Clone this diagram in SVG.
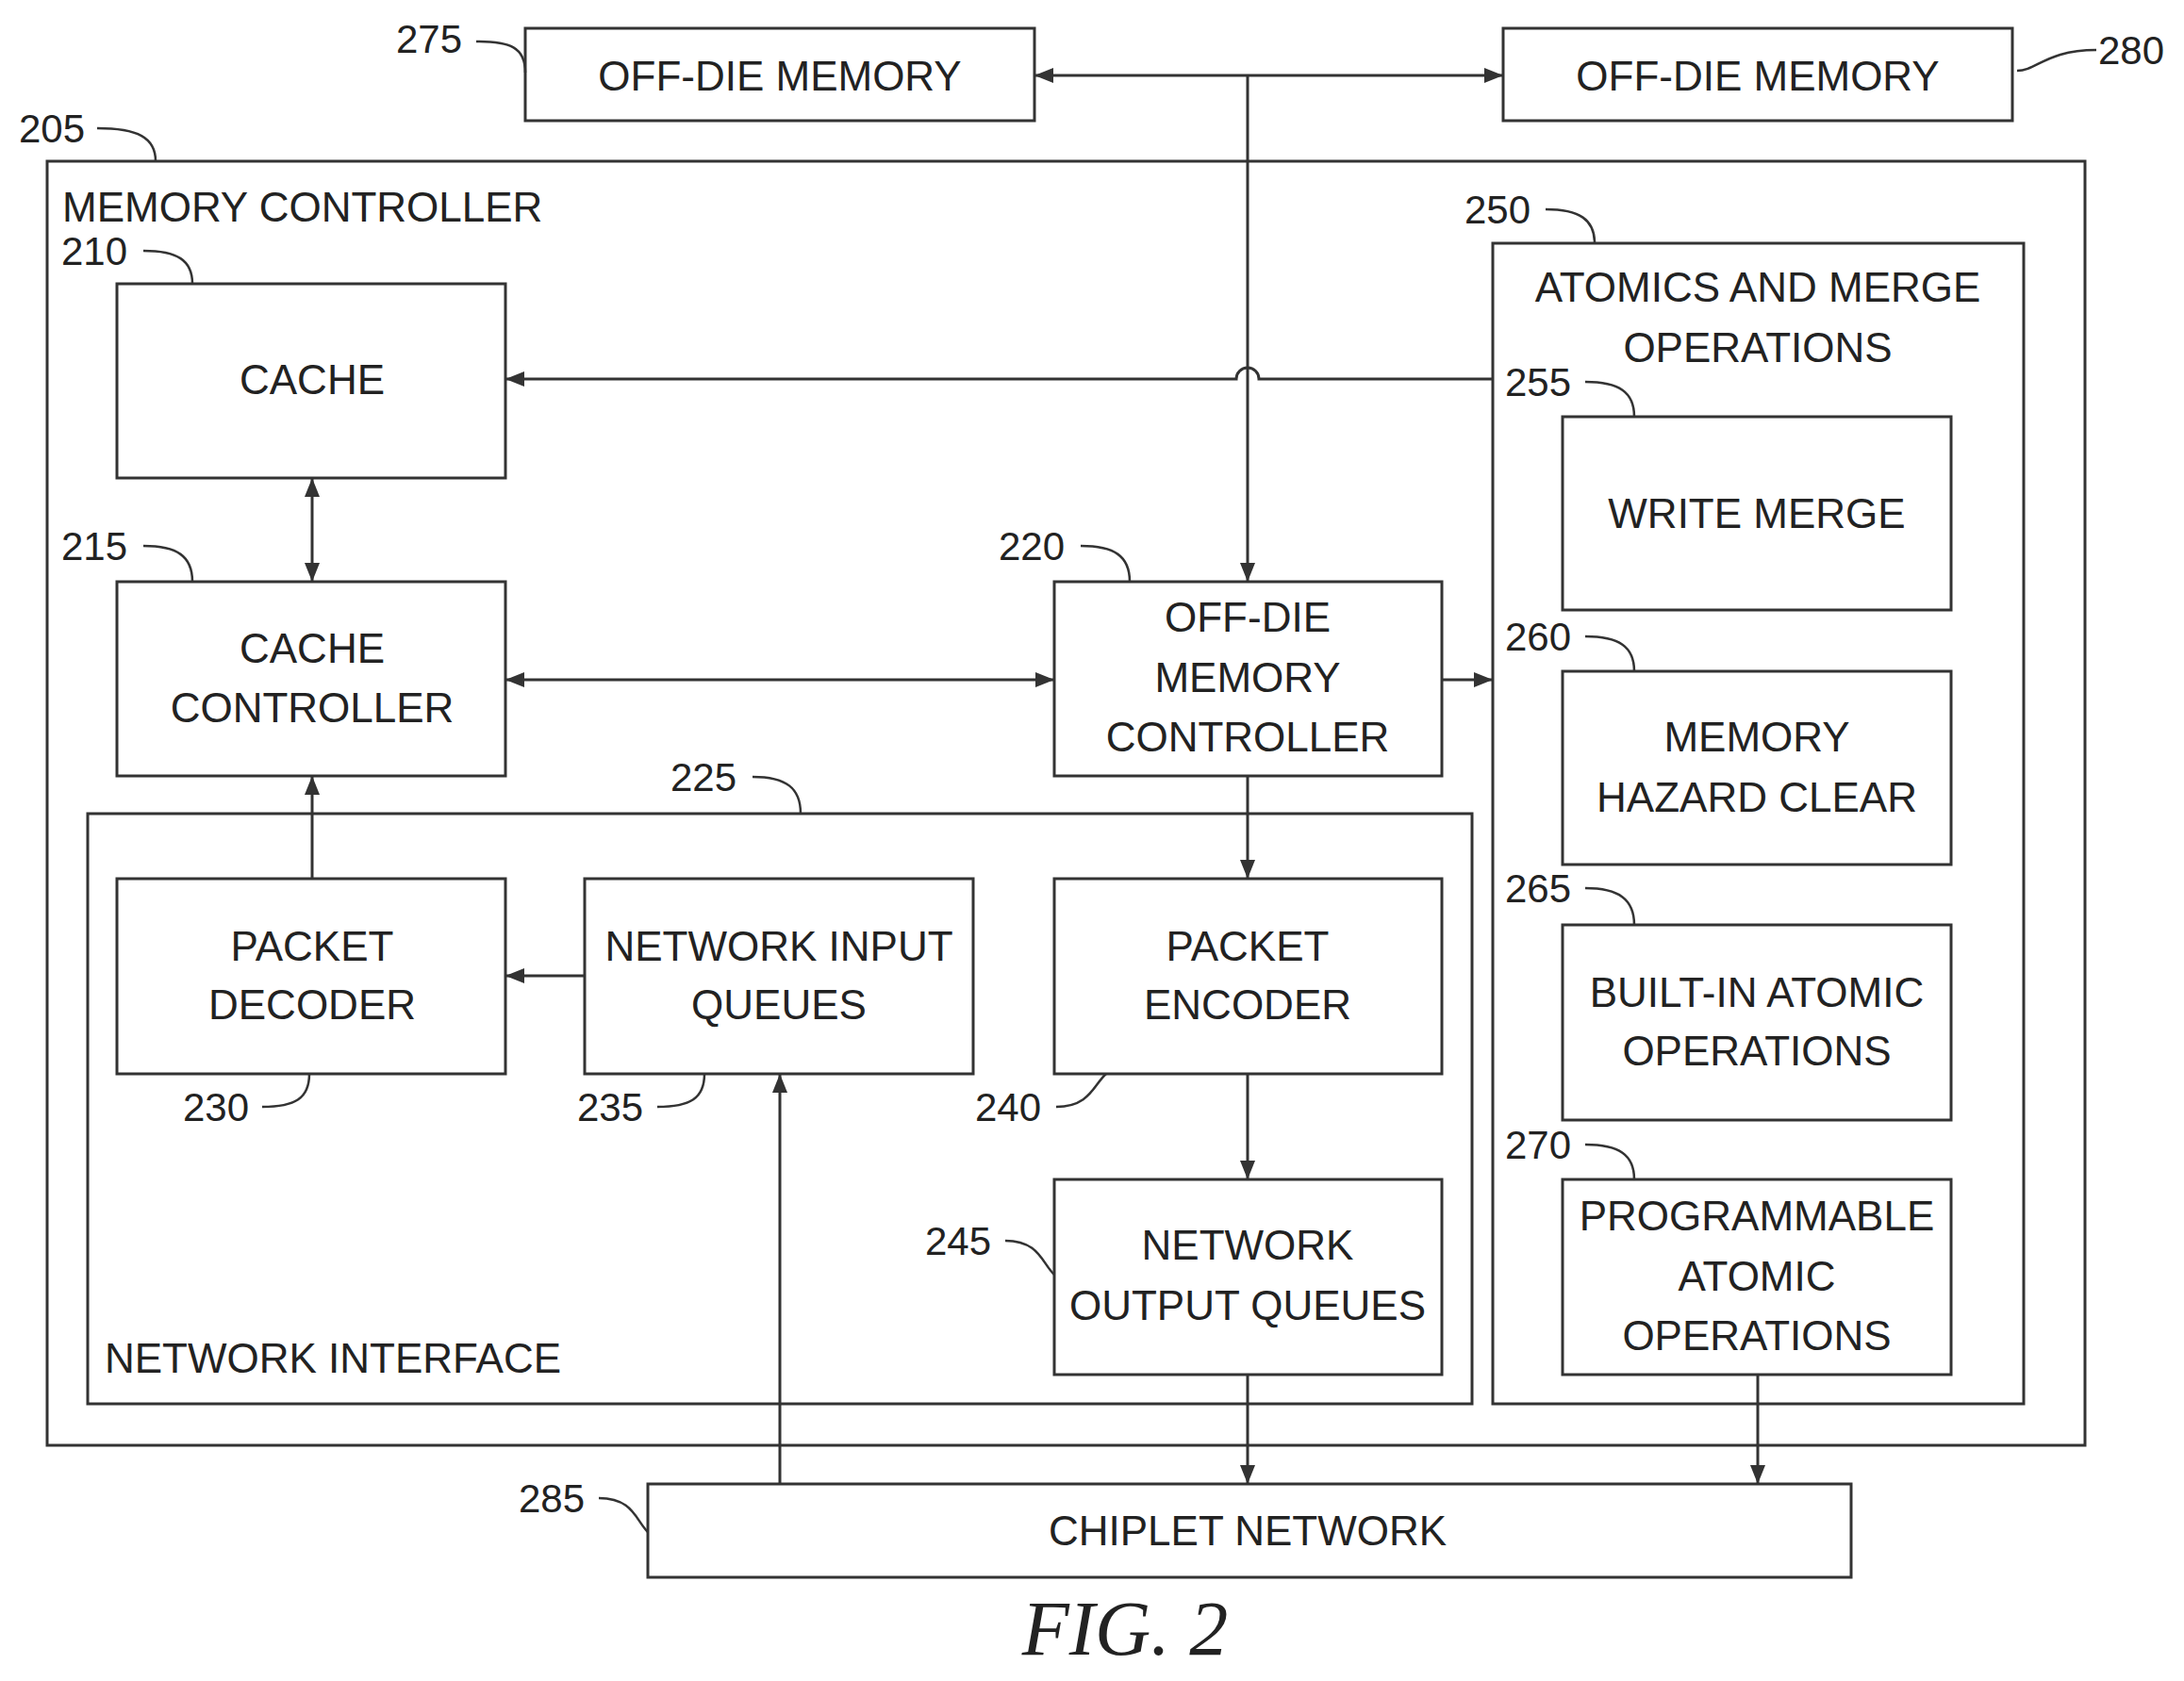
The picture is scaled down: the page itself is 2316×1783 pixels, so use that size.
<svg xmlns="http://www.w3.org/2000/svg" width="2316" height="1783" viewBox="0 0 2316 1783">
<style>
.b{fill:none;stroke:#333;stroke-width:3}
.t{font-family:"Liberation Sans",Arial,sans-serif;font-size:44px;fill:#222;text-anchor:middle;dominant-baseline:central}
.n{font-family:"Liberation Sans",Arial,sans-serif;font-size:42px;fill:#222;text-anchor:middle;dominant-baseline:central}
.l{fill:none;stroke:#333;stroke-width:2.5}
.c{fill:none;stroke:#333;stroke-width:3}
</style>
<defs>
<marker id="a" viewBox="0 0 20 16" refX="20" refY="8" markerWidth="20" markerHeight="16" markerUnits="userSpaceOnUse" orient="auto-start-reverse"><path d="M0,0 L20,8 L0,16 Z" fill="#333"/></marker>
</defs>
<rect width="2316" height="1783" fill="#fff"/>
<g id="n205"><rect class="b" x="50" y="171" width="2161" height="1362"/><text class="t" x="66" y="219" style="text-anchor:start">MEMORY CONTROLLER</text></g>
<g id="n275"><rect class="b" x="557" y="30" width="540" height="98"/><text class="t" x="827" y="80">OFF-DIE MEMORY</text></g>
<g id="n280"><rect class="b" x="1594" y="30" width="540" height="98"/><text class="t" x="1864" y="80">OFF-DIE MEMORY</text></g>
<g id="n210"><rect class="b" x="124" y="301" width="412" height="206"/><text class="t" x="331" y="402">CACHE</text></g>
<g id="n215"><rect class="b" x="124" y="617" width="412" height="206"/><text class="t" x="331" y="687">CACHE</text><text class="t" x="331" y="750">CONTROLLER</text></g>
<g id="n220"><rect class="b" x="1118" y="617" width="411" height="206"/><text class="t" x="1323" y="654">OFF-DIE</text><text class="t" x="1323" y="718">MEMORY</text><text class="t" x="1323" y="781">CONTROLLER</text></g>
<g id="n225"><rect class="b" x="93" y="863" width="1468" height="626"/><text class="t" x="111" y="1440" style="text-anchor:start">NETWORK INTERFACE</text></g>
<g id="n230"><rect class="b" x="124" y="932" width="412" height="207"/><text class="t" x="331" y="1003">PACKET</text><text class="t" x="331" y="1065">DECODER</text></g>
<g id="n235"><rect class="b" x="620" y="932" width="412" height="207"/><text class="t" x="826" y="1003">NETWORK INPUT</text><text class="t" x="826" y="1065">QUEUES</text></g>
<g id="n240"><rect class="b" x="1118" y="932" width="411" height="207"/><text class="t" x="1323" y="1003">PACKET</text><text class="t" x="1323" y="1065">ENCODER</text></g>
<g id="n245"><rect class="b" x="1118" y="1251" width="411" height="207"/><text class="t" x="1323" y="1320">NETWORK</text><text class="t" x="1323" y="1384">OUTPUT QUEUES</text></g>
<g id="n250"><rect class="b" x="1583" y="258" width="563" height="1231"/><text class="t" x="1864" y="304">ATOMICS AND MERGE</text><text class="t" x="1864" y="368">OPERATIONS</text></g>
<g id="n255"><rect class="b" x="1657" y="442" width="412" height="205"/><text class="t" x="1863" y="544">WRITE MERGE</text></g>
<g id="n260"><rect class="b" x="1657" y="712" width="412" height="205"/><text class="t" x="1863" y="781">MEMORY</text><text class="t" x="1863" y="845">HAZARD CLEAR</text></g>
<g id="n265"><rect class="b" x="1657" y="981" width="412" height="207"/><text class="t" x="1863" y="1052">BUILT-IN ATOMIC</text><text class="t" x="1863" y="1114">OPERATIONS</text></g>
<g id="n270"><rect class="b" x="1657" y="1251" width="412" height="207"/><text class="t" x="1863" y="1289">PROGRAMMABLE</text><text class="t" x="1863" y="1353">ATOMIC</text><text class="t" x="1863" y="1416">OPERATIONS</text></g>
<g id="n285"><rect class="b" x="687" y="1574" width="1276" height="99"/><text class="t" x="1323" y="1623">CHIPLET NETWORK</text></g>
<g id="connectors">
<path class="c" d="M1097,80 H1594" marker-start="url(#a)" marker-end="url(#a)"/>
<path class="c" d="M1323,80 V617" marker-end="url(#a)"/>
<path class="c" d="M1583,402 H1335 a12,12 0 0 0 -24,0 H536" marker-end="url(#a)"/>
<path class="c" d="M331,507 V617" marker-start="url(#a)" marker-end="url(#a)"/>
<path class="c" d="M536,721 H1118" marker-start="url(#a)" marker-end="url(#a)"/>
<path class="c" d="M1529,721 H1583" marker-end="url(#a)"/>
<path class="c" d="M331,932 V823" marker-end="url(#a)"/>
<path class="c" d="M620,1035 H536" marker-end="url(#a)"/>
<path class="c" d="M827,1574 V1139" marker-end="url(#a)"/>
<path class="c" d="M1323,823 V932" marker-end="url(#a)"/>
<path class="c" d="M1323,1139 V1251" marker-end="url(#a)"/>
<path class="c" d="M1323,1458 V1574" marker-end="url(#a)"/>
<path class="c" d="M1864,1458 V1574" marker-end="url(#a)"/>
</g>
<g id="labels">
<text class="n" x="455" y="41">275</text><path class="l" d="M505,44 C541,44 557,50 557,77"/>
<text class="n" x="2260" y="53">280</text><path class="l" d="M2139,75 C2160,75 2170,53 2223,53"/>
<text class="n" x="55" y="136">205</text><path class="l" d="M103,136 C146,136 165,146 165,171"/>
<text class="n" x="100" y="266">210</text><path class="l" d="M152,266 C188,266 204,276 204,301"/>
<text class="n" x="100" y="579">215</text><path class="l" d="M152,579 C188,579 204,590 204,617"/>
<text class="n" x="1094" y="579">220</text><path class="l" d="M1146,579 C1182,579 1198,590 1198,617"/>
<text class="n" x="746" y="824">225</text><path class="l" d="M798,824 C834,824 849,836 849,863"/>
<text class="n" x="229" y="1174">230</text><path class="l" d="M278,1174 C313,1174 328,1165 328,1139"/>
<text class="n" x="647" y="1174">235</text><path class="l" d="M697,1174 C732,1174 747,1165 747,1139"/>
<text class="n" x="1069" y="1174">240</text><path class="l" d="M1120,1174 C1156,1174 1160,1150 1173,1139"/>
<text class="n" x="1016" y="1316">245</text><path class="l" d="M1066,1316 C1102,1316 1105,1340 1118,1352"/>
<text class="n" x="1588" y="222">250</text><path class="l" d="M1639,222 C1675,222 1691,233 1691,258"/>
<text class="n" x="1631" y="405">255</text><path class="l" d="M1681,405 C1717,405 1733,416 1733,442"/>
<text class="n" x="1631" y="675">260</text><path class="l" d="M1681,675 C1717,675 1733,686 1733,712"/>
<text class="n" x="1631" y="942">265</text><path class="l" d="M1681,942 C1717,942 1733,954 1733,981"/>
<text class="n" x="1631" y="1214">270</text><path class="l" d="M1681,1214 C1717,1214 1733,1225 1733,1251"/>
<text class="n" x="585" y="1589">285</text><path class="l" d="M635,1589 C671,1589 674,1612 687,1625"/>
</g>
<text x="1193" y="1755" style="font-family:'Liberation Serif',serif;font-style:italic;font-size:82px;fill:#222;text-anchor:middle">FIG. 2</text>
</svg>
